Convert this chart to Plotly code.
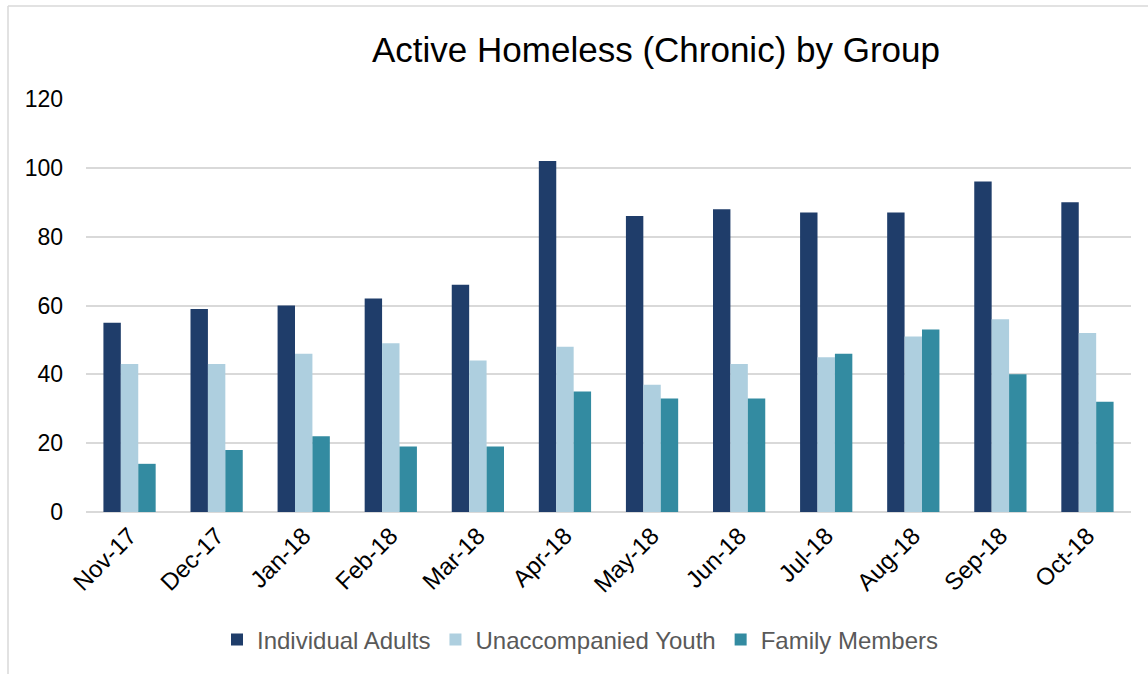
import plotly.graph_objects as go

# Monthly counts of chronically homeless people, by group
months = ["Nov-17", "Dec-17", "Jan-18", "Feb-18", "Mar-18", "Apr-18",
          "May-18", "Jun-18", "Jul-18", "Aug-18", "Sep-18", "Oct-18"]
individual_adults = [55, 59, 60, 62, 66, 102, 86, 88, 87, 87, 96, 90]
unaccompanied_youth = [43, 43, 46, 49, 44, 48, 37, 43, 45, 51, 56, 52]
family_members = [14, 18, 22, 19, 19, 35, 33, 33, 46, 53, 40, 32]
y_ticks = [0, 20, 40, 60, 80, 100, 120]

FONT = "Arial, Liberation Sans, sans-serif"
W, H = 1148, 674
L, R, T, B = 86, 17, 99, 162

series = [
    ("Individual Adults", individual_adults, "#1F3D6A"),
    ("Unaccompanied Youth", unaccompanied_youth, "#AECFDF"),
    ("Family Members", family_members, "#338BA1"),
]

fig = go.Figure()
for name, vals, color in series:
    fig.add_trace(go.Bar(
        x=months, y=vals, name=name,
        marker=dict(color=color, line=dict(width=0)),
    ))

pw = W - L - R
ph = H - T - B

def px_x(px):
    return (px - L) / pw

def px_y(py):
    return (H - B - py) / ph

# outer chart frame (top and left edges visible)
fig.add_shape(type="line", xref="paper", yref="paper",
              x0=px_x(8), x1=px_x(W + 5), y0=px_y(6), y1=px_y(6),
              line=dict(color="#D9D9D9", width=1.5))
fig.add_shape(type="line", xref="paper", yref="paper",
              x0=px_x(8), x1=px_x(8), y0=px_y(6), y1=px_y(H + 5),
              line=dict(color="#D9D9D9", width=1.5))

fig.update_layout(
    width=W, height=H,
    margin=dict(l=L, r=R, t=T, b=B, autoexpand=False),
    paper_bgcolor="white", plot_bgcolor="white",
    barmode="group", bargap=0.40, bargroupgap=0,
    font=dict(family=FONT, color="#000000"),
    title=dict(text="Active Homeless (Chronic) by Group",
               x=(375 + 937) / 2 / W, xanchor="center",
               y=1 - 50 / H, yanchor="middle",
               font=dict(family=FONT, size=35, color="#000000")),
    legend=dict(orientation="h", x=px_x(580), xanchor="center",
                y=px_y(640), yanchor="middle",
                font=dict(family=FONT, size=24, color="#595959"),
                itemwidth=30, traceorder="normal"),
    xaxis=dict(tickangle=-45, showgrid=False, showline=False,
               ticks="", ticklabelstandoff=4,
               tickfont=dict(family=FONT, size=24, color="#000000")),
    yaxis=dict(range=[0, 120], tickvals=y_ticks, showline=False,
               gridcolor="#D9D9D9", gridwidth=1.5,
               zeroline=True, zerolinecolor="#D9D9D9", zerolinewidth=1.5,
               ticks="", ticklabelstandoff=22,
               tickfont=dict(family=FONT, size=23, color="#000000")),
)

fig.write_html("out.html")
